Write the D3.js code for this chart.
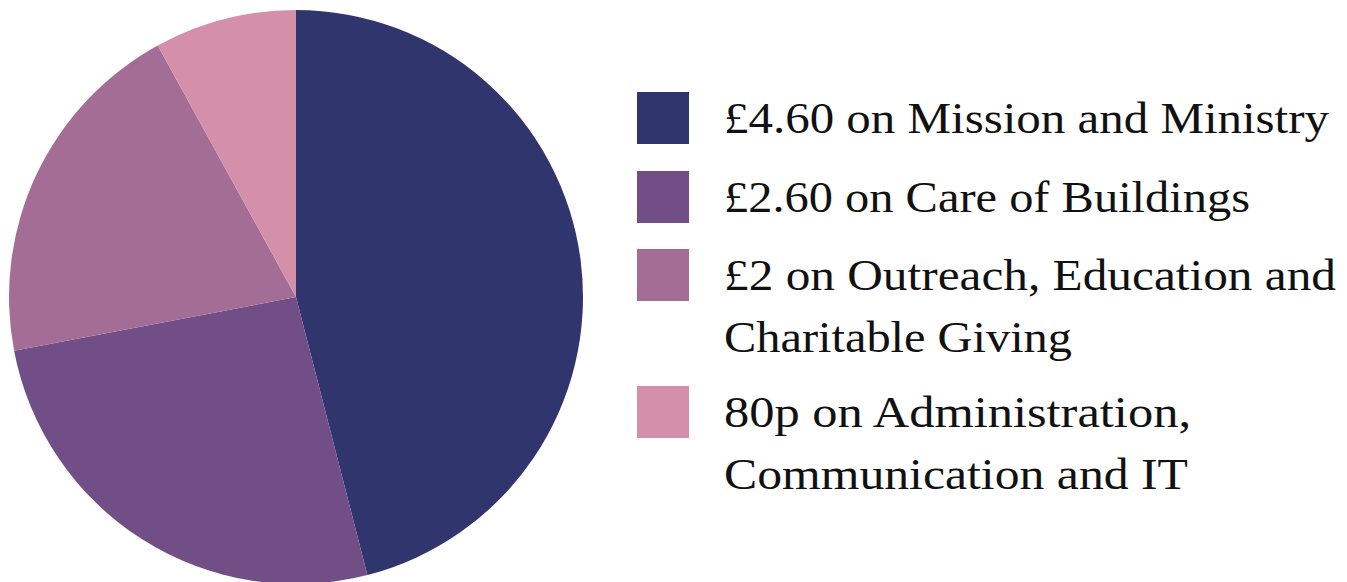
<!DOCTYPE html>
<html>
<head>
<meta charset="utf-8">
<script src="https://cdn.jsdelivr.net/npm/d3@7"></script>
<style>
  html, body { margin: 0; padding: 0; background: #fff; }
  svg { display: block; }
</style>
</head>
<body>
<svg id="chart" width="1347" height="582"></svg>
<script>
// spend per £10, as shown in the legend
const categories = [
  "Mission and Ministry",
  "Care of Buildings",
  "Outreach, Education and Charitable Giving",
  "Administration, Communication and IT"
]
const amounts = [4.6, 2.6, 2, 0.8]
const legendLines = [
  ["£4.60 on Mission and Ministry"],
  ["£2.60 on Care of Buildings"],
  ["£2 on Outreach, Education and", "Charitable Giving"],
  ["80p on Administration,", "Communication and IT"]
]
const colors = ["#31356d", "#724e86", "#a36d95", "#d48fa9"]

const svg = d3.select("#chart")

// Pie
const cx = 296, cy = 297, radius = 287
const data = categories.map((c, i) => ({ category: c, amount: amounts[i] }))

const pie = d3.pie()
  .sort(null)
  .value(d => d.amount)
const arc = d3.arc().innerRadius(0).outerRadius(radius)
const color = d3.scaleOrdinal().domain(categories).range(colors)

svg.append("g")
  .attr("transform", `translate(${cx},${cy})`)
  .selectAll("path")
  .data(pie(data))
  .enter()
  .append("path")
    .attr("d", arc)
    .attr("fill", d => color(d.data.category))

// Legend
const legendX = 637, boxSize = 52, textX = 724
const rowTops = [92, 171, 249, 386]
const lineGap = 62
// measured widths of each text line in the picture
const lineWidths = [[605], [526], [612, 348], [467, 464]]

const legend = svg.append("g")
const rows = legend.selectAll("g")
  .data(categories)
  .enter()
  .append("g")
    .attr("transform", (d, i) => `translate(0,${rowTops[i]})`)

rows.append("rect")
  .attr("x", legendX)
  .attr("y", 0)
  .attr("width", boxSize)
  .attr("height", boxSize)
  .attr("fill", d => color(d))

rows.each(function(d, i) {
  const g = d3.select(this)
  legendLines[i].forEach((line, j) => {
    g.append("text")
      .attr("x", textX)
      .attr("y", 41 + j * lineGap)
      .attr("font-family", "'Liberation Serif', serif")
      .attr("font-size", 45)
      .attr("fill", "#111")
      .attr("textLength", lineWidths[i][j])
      .attr("lengthAdjust", "spacingAndGlyphs")
      .text(line)
  })
})
</script>
</body>
</html>
